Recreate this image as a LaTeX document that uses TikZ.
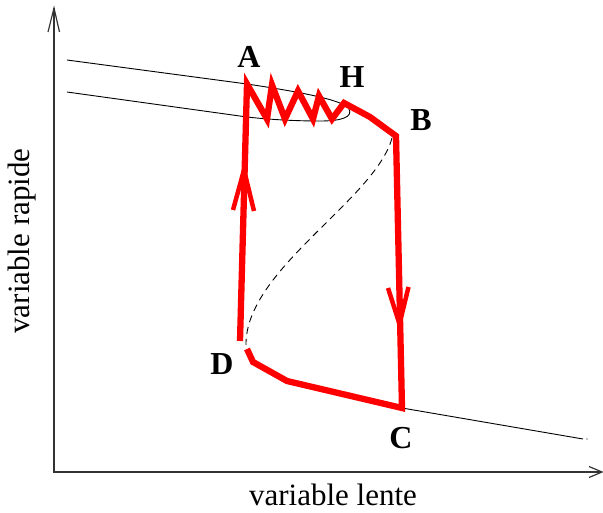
\documentclass[tikz,border=0pt]{standalone}
\usepackage{fontspec}
\setmainfont{Liberation Serif}
\usetikzlibrary{arrows.meta}
\tikzset{
  axisline/.style={line width=1.2pt, black!80},
  branch/.style={line width=0.9pt, black},
  redpath/.style={line width=6.3pt, red, line join=miter, miter limit=20},
  chevron/.style={line width=4.5pt, red, line join=miter},
  ptlabel/.style={font=\fontsize{32}{34}\selectfont\bfseries, inner sep=0pt},
  axlabel/.style={font=\fontsize{31}{34}\selectfont, inner sep=0pt}
}
\begin{document}
\begin{tikzpicture}[x=1pt,y=-1pt]
\useasboundingbox (0,0) rectangle (603,513);
% axes
\draw[axisline] (54,8) -- (54,472) -- (602,472);
\draw[axisline] (48,32) -- (54,8) -- (59.5,32);
\draw[axisline] (589,466.5) -- (602,472) -- (589,477.5);
% upper branch with fold
\draw[branch] (67,60) -- (247,84) .. controls (300,92) and (344,100) .. (349,109)
  .. controls (353,117) and (342,121) .. (320,121)
  .. controls (290,121) and (265,119) .. (247,117) -- (67,92);
% middle (unstable) branch
\draw[branch, dash pattern=on 7pt off 5pt] (392,138) .. controls (375,200) and (245,270) .. (246,345);
% lower branch
\draw[branch] (287,381) -- (402,408) -- (583,439);
\fill (587,439) circle (0.6);
% red trajectory
\draw[redpath] (240,341) -- (247,84) -- (267,119) -- (272,85) -- (285,119) -- (298,91)
  -- (313,119) -- (319,96) -- (332,119) -- (344,103) -- (370,117) -- (396,136)
  -- (402,408) -- (287,381) -- (253,362) -- (247,349);
\draw[chevron] (233,210) -- (244,170) -- (254,211);
\draw[chevron] (388,288) -- (399.5,324) -- (408.5,287);
% labels
\node[ptlabel] (A) at (249,57) {A};
\node[ptlabel] (H) at (352,77) {H};
\node[ptlabel] (B) at (421,120) {B};
\node[ptlabel] (D) at (222,364) {D};
\node[ptlabel] (C) at (401,438) {C};
\node[axlabel] (xl) at (333,495) {variable lente};
\node[axlabel, rotate=90] (yl) at (22,241) {variable rapide};
\end{tikzpicture}
\end{document}
